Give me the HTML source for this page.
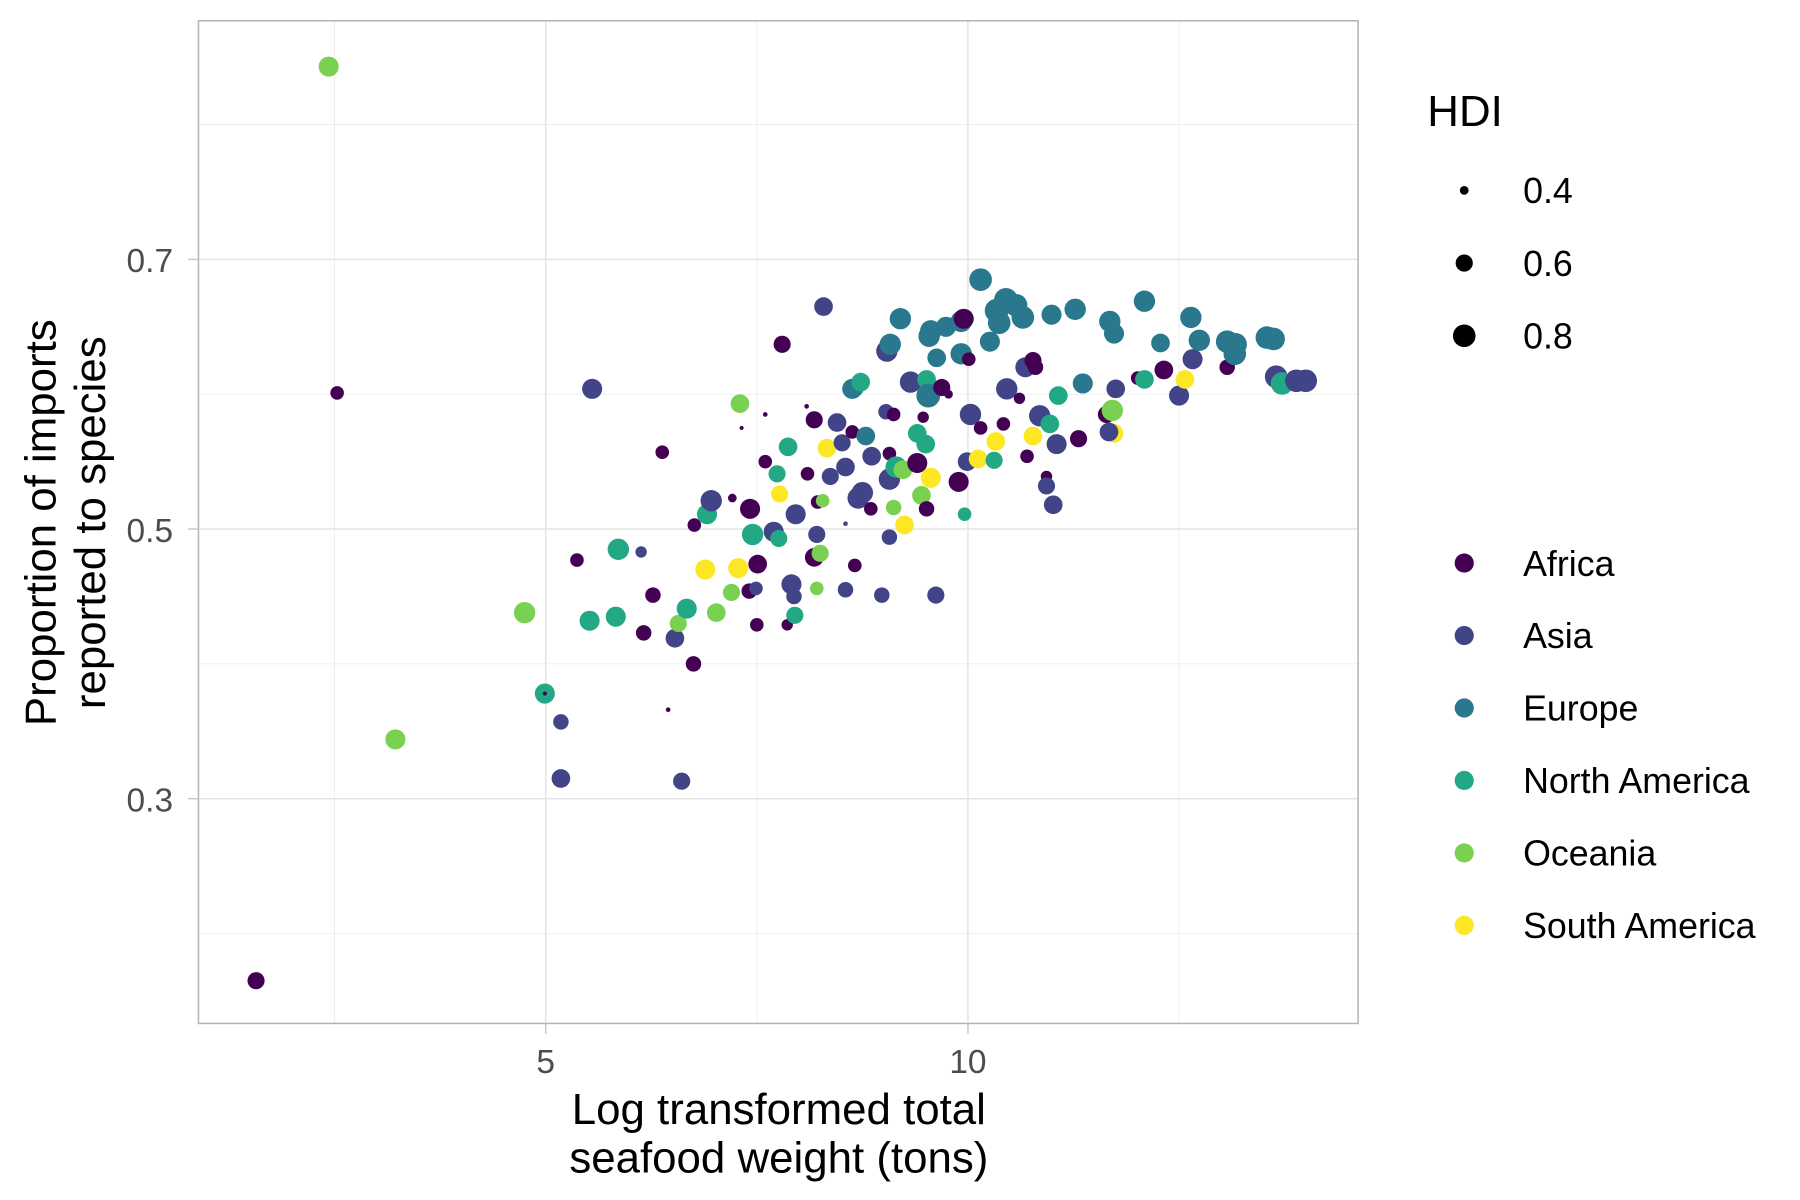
<!DOCTYPE html>
<html><head><meta charset="utf-8">
<style>
html,body{margin:0;padding:0;background:#fff;}
svg{display:block;font-family:"Liberation Sans",Arial,sans-serif;}
</style></head>
<body>
<svg id="chart" width="1800" height="1200" viewBox="0 0 1560 1040" xmlns="http://www.w3.org/2000/svg">
<rect x="0" y="0" width="1560" height="1040" fill="#fff"/>
<g id="grid"></g>
<g id="points"></g>
<rect x="172" y="18" width="1005" height="869" fill="none" stroke="#b3b3b3" stroke-width="1.3"/>
<g id="axes"></g>
<g font-size="38" fill="#000" text-anchor="middle">
<text transform="translate(48,453) rotate(-90)">Proportion of imports</text>
<text transform="translate(91,453) rotate(-90)">reported to species</text>
</g>
<g font-size="38" fill="#000" text-anchor="middle">
<text x="675" y="974">Log transformed total</text>
<text x="675" y="1016">seafood weight (tons)</text>
</g>
<g id="legend"></g>
</svg>
<script>
const regions = ["Africa","Asia","Europe","North America","Oceania","South America"];
const regionColors = ["#440154","#414487","#2A788E","#22A884","#7AD151","#FDE725"];
const xTicks = [5,10];
const xTickLabels = ["5","10"];
const yTicks = [0.3,0.5,0.7];
const yTickLabels = ["0.3","0.5","0.7"];
const sizeBreaks = [0.4,0.6,0.8];
// region index per point
const pointRegion = [4,0,0,4,4,3,0,1,1,0,1,3,3,3,1,0,0,0,0,1,4,1,3,0,0,3,5,1,4,4,0,4,0,0,5,0,0,3,1,0,0,0,1,3,3,0,5,3,1,1,0,3,1,0,0,0,1,0,0,4,4,1,4,5,1,1,1,1,1,1,0,3,2,3,0,1,1,2,1,0,1,1,2,1,0,1,0,1,4,2,3,5,4,1,3,0,4,3,0,3,2,2,2,0,5,1,2,0,0,2,2,0,2,0,3,1,0,1,2,0,5,2,3,5,2,2,0,2,1,2,2,0,1,0,5,0,0,1,0,1,3,2,1,1,3,2,0,2,0,2,2,4,5,1,1,0,2,3,2,0,1,5,2,1,2,0,2,2,2,2,2,1,3,1,1];
const pointX = [2.43,1.57,2.53,3.22,4.75,4.99,4.99,5.18,5.18,5.37,5.55,5.52,5.86,5.83,6.13,6.27,6.16,6.38,6.45,6.53,6.57,6.61,6.67,6.75,6.76,6.91,6.89,6.96,7.02,7.20,7.21,7.30,7.32,7.60,7.28,7.41,7.42,7.45,7.49,7.51,7.50,7.60,7.70,7.74,7.76,7.80,7.77,7.87,7.91,7.94,7.86,7.95,7.96,8.09,8.10,8.18,8.21,8.18,8.22,8.25,8.21,8.29,8.28,8.33,8.37,8.45,8.51,8.55,8.55,8.55,8.63,8.66,8.63,8.73,8.66,8.70,8.75,8.79,8.86,8.85,8.98,9.04,9.08,9.03,9.12,9.07,9.07,9.07,9.12,9.20,9.15,9.25,9.23,9.32,9.40,9.40,9.45,9.50,9.47,9.51,9.53,9.56,9.54,9.51,9.56,9.62,9.63,9.69,9.77,9.74,9.92,9.95,9.92,9.89,9.96,9.99,10.01,10.03,10.15,10.15,10.12,10.26,10.31,10.33,10.34,10.37,10.42,10.45,10.46,10.57,10.65,10.61,10.68,10.70,10.77,10.77,10.80,10.85,10.93,10.93,10.97,10.99,11.01,11.05,11.07,11.27,11.31,11.36,11.64,11.68,11.73,11.71,11.73,11.67,11.75,12.01,12.09,12.09,12.28,12.32,12.50,12.57,12.64,12.66,12.74,13.07,13.07,13.17,13.16,13.54,13.62,13.65,13.72,13.89,14.00];
const pointY = [0.843,0.165,0.601,0.344,0.438,0.378,0.378,0.357,0.315,0.477,0.604,0.432,0.485,0.435,0.483,0.451,0.423,0.557,0.366,0.419,0.430,0.313,0.441,0.400,0.503,0.511,0.470,0.521,0.438,0.453,0.523,0.593,0.575,0.585,0.471,0.454,0.515,0.496,0.456,0.474,0.429,0.550,0.498,0.541,0.493,0.637,0.526,0.561,0.459,0.450,0.429,0.436,0.511,0.591,0.541,0.581,0.496,0.479,0.520,0.482,0.456,0.665,0.521,0.560,0.539,0.579,0.564,0.546,0.504,0.455,0.572,0.605,0.604,0.609,0.473,0.523,0.527,0.569,0.554,0.515,0.451,0.632,0.637,0.587,0.585,0.537,0.556,0.494,0.516,0.656,0.546,0.503,0.544,0.609,0.571,0.549,0.525,0.563,0.583,0.611,0.599,0.647,0.643,0.515,0.538,0.451,0.627,0.605,0.600,0.650,0.654,0.656,0.630,0.535,0.511,0.550,0.626,0.585,0.685,0.575,0.552,0.639,0.551,0.565,0.662,0.653,0.578,0.670,0.604,0.666,0.657,0.597,0.620,0.554,0.569,0.625,0.620,0.584,0.539,0.532,0.578,0.659,0.518,0.563,0.599,0.663,0.567,0.608,0.585,0.654,0.645,0.588,0.571,0.572,0.604,0.612,0.669,0.611,0.638,0.618,0.599,0.611,0.657,0.626,0.640,0.620,0.639,0.637,0.630,0.642,0.641,0.613,0.608,0.610,0.610];
const pointHDI = [0.70,0.60,0.50,0.70,0.75,0.70,0.30,0.55,0.65,0.50,0.70,0.70,0.75,0.70,0.45,0.55,0.55,0.50,0.35,0.65,0.60,0.60,0.70,0.55,0.50,0.70,0.70,0.75,0.65,0.60,0.40,0.65,0.30,0.35,0.70,0.55,0.70,0.75,0.50,0.65,0.50,0.50,0.70,0.60,0.60,0.60,0.60,0.65,0.70,0.55,0.45,0.60,0.70,0.35,0.50,0.60,0.60,0.65,0.50,0.60,0.50,0.65,0.50,0.65,0.60,0.65,0.60,0.65,0.35,0.55,0.50,0.65,0.70,0.65,0.50,0.75,0.75,0.65,0.65,0.50,0.55,0.75,0.75,0.55,0.50,0.75,0.50,0.55,0.55,0.75,0.75,0.65,0.65,0.75,0.65,0.70,0.65,0.65,0.45,0.65,0.85,0.75,0.75,0.55,0.70,0.60,0.65,0.60,0.40,0.70,0.75,0.70,0.75,0.70,0.50,0.65,0.50,0.75,0.80,0.50,0.65,0.70,0.60,0.65,0.85,0.80,0.50,0.85,0.75,0.80,0.80,0.45,0.70,0.50,0.65,0.60,0.55,0.75,0.45,0.60,0.65,0.70,0.65,0.70,0.65,0.75,0.60,0.70,0.60,0.75,0.70,0.75,0.65,0.65,0.65,0.50,0.75,0.65,0.65,0.65,0.70,0.65,0.75,0.70,0.75,0.55,0.80,0.80,0.80,0.80,0.80,0.80,0.80,0.80,0.80];

const NS="http://www.w3.org/2000/svg";
const P={l:172,r:1177,t:18,b:887};
const X0=0.888,X1=14.62,Y0=0.1333,Y1=0.877;
function sx(v){return P.l+(v-X0)/(X1-X0)*(P.r-P.l);}
function sy(v){return P.b-(v-Y0)/(Y1-Y0)*(P.b-P.t);}
function sr(h){return Math.max(1.8,14.3*Math.sqrt(Math.max(0,h-0.33)));}
function mk(tag,attrs,parent){const e=document.createElementNS(NS,tag);for(const k in attrs)e.setAttribute(k,attrs[k]);parent.appendChild(e);return e;}

const grid=document.getElementById('grid');
[2.5,7.5,12.5].forEach(v=>{
  const l=mk('line',{x1:sx(v),x2:sx(v),y1:P.t,y2:P.b,stroke:'#ebebeb','stroke-width':0.7},grid);
  
  
});
[0.2,0.4,0.6,0.8].forEach(v=>{
  const l=mk('line',{x1:P.l,x2:P.r,y1:sy(v),y2:sy(v),stroke:'#ebebeb','stroke-width':0.7},grid);
  
  
});
xTicks.forEach(v=>{
  const l=mk('line',{x1:sx(v),x2:sx(v),y1:P.t,y2:P.b,stroke:'#e4e4e4','stroke-width':1.3},grid);
  
  
});
yTicks.forEach(v=>{
  const l=mk('line',{x1:P.l,x2:P.r,y1:sy(v),y2:sy(v),stroke:'#e4e4e4','stroke-width':1.3},grid);
  
  
});

const pts=document.getElementById('points');
for(let i=0;i<pointX.length;i++){
  const c=mk('circle',{cx:sx(pointX[i]),cy:sy(pointY[i]),r:sr(pointHDI[i]),fill:regionColors[pointRegion[i]]},pts);
  
  
}

const axes=document.getElementById('axes');
xTicks.forEach((v,i)=>{
  const t=mk('line',{x1:sx(v),x2:sx(v),y1:P.b,y2:P.b+9,stroke:'#c8c8c8','stroke-width':1.3},axes);
  
  
  const tx=mk('text',{x:sx(v),y:P.b+43,'font-size':29,fill:'#4d4d4d','text-anchor':'middle'},axes);
  tx.textContent=xTickLabels[i];
  
  
});
yTicks.forEach((v,i)=>{
  const t=mk('line',{x1:P.l-9,x2:P.l,y1:sy(v),y2:sy(v),stroke:'#c8c8c8','stroke-width':1.3},axes);
  
  
  const tx=mk('text',{x:P.l-22,y:sy(v)+11,'font-size':29,fill:'#4d4d4d','text-anchor':'end'},axes);
  tx.textContent=yTickLabels[i];
  
  
});

const leg=document.getElementById('legend');
const ht=mk('text',{x:1237,y:109,'font-size':38,fill:'#000'},leg);
ht.textContent='HDI';


sizeBreaks.forEach((h,i)=>{
  const y=165+i*63;
  const c=mk('circle',{cx:1269,cy:y,r:sr(h),fill:'#000'},leg);
  
  
  const t=mk('text',{x:1320,y:y+11,'font-size':31,fill:'#000'},leg);
  t.textContent=h.toFixed(1);
  
  
});
regions.forEach((r,i)=>{
  const y=488+i*62.8;
  const c=mk('circle',{cx:1269,cy:y,r:8.3,fill:regionColors[i]},leg);
  
  
  const t=mk('text',{x:1320,y:y+11,'font-size':31,fill:'#000'},leg);
  t.textContent=r;
  
  
});
</script>
</body></html>
